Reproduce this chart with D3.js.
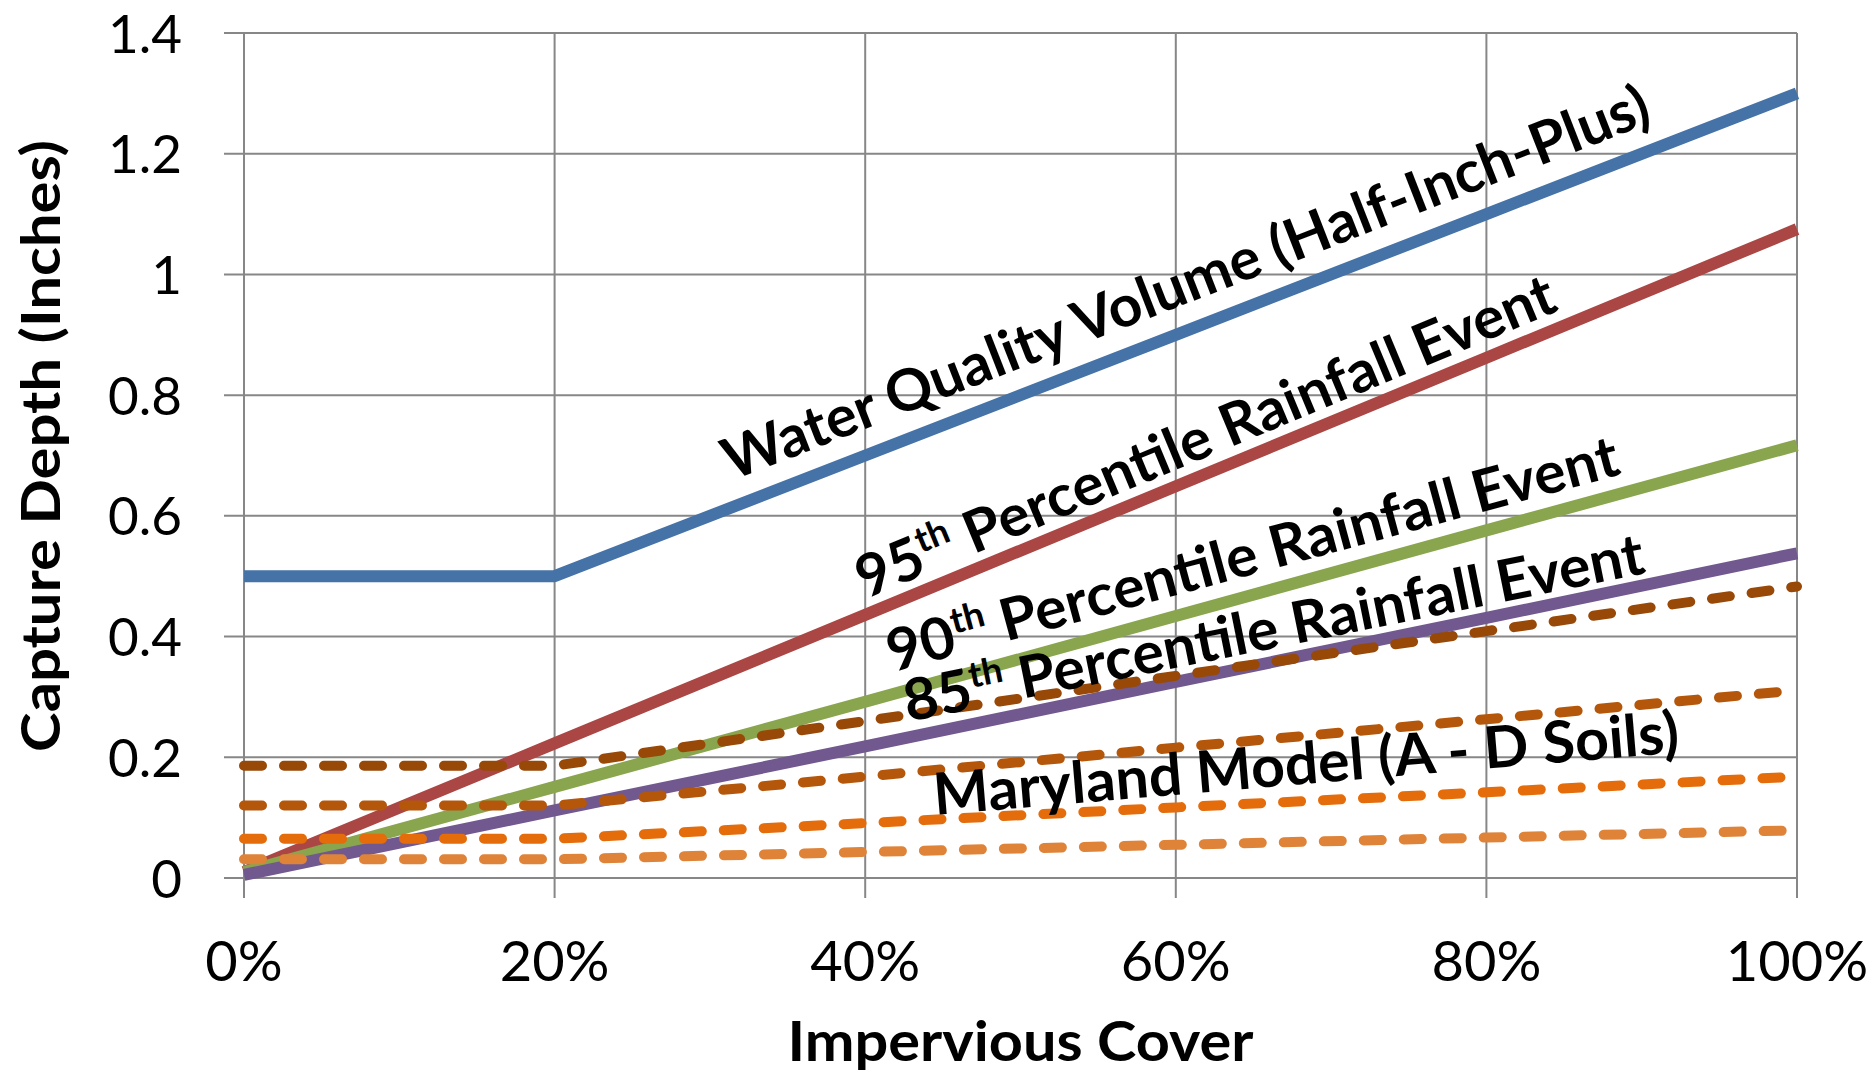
<!DOCTYPE html>
<html><head><meta charset="utf-8">
<script src="https://cdn.jsdelivr.net/npm/d3@7"></script>
<style>
body{margin:0;background:#fff}
text{font-family:Lato,'Open Sans',sans-serif;fill:#000}
</style>
</head><body>
<svg id="c" width="1873" height="1075"></svg>
<script>
// ---------- data ----------
const impervious   = [0, 0.2, 0.4, 0.6, 0.8, 1.0];
const xTickValues  = [0, 0.2, 0.4, 0.6, 0.8, 1.0];
const xTickLabels  = ["0%", "20%", "40%", "60%", "80%", "100%"];
const yTickValues  = [0, 0.2, 0.4, 0.6, 0.8, 1.0, 1.2, 1.4];
const yTickLabels  = ["0", "0.2", "0.4", "0.6", "0.8", "1", "1.2", "1.4"];

const wqv          = [0.5, 0.5, 0.7, 0.9, 1.1, 1.3];
const pct95        = [0.01, 0.223, 0.436, 0.649, 0.862, 1.075];
const pct90        = [0.01, 0.151, 0.292, 0.434, 0.576, 0.717];
const pct85        = [0.005, 0.112, 0.218, 0.325, 0.431, 0.538];
const mdSoilD      = [0.186, 0.186, 0.260, 0.335, 0.409, 0.483];
const mdSoilC      = [0.120, 0.120, 0.168, 0.216, 0.263, 0.311];
const mdSoilB      = [0.065, 0.065, 0.091, 0.117, 0.142, 0.168];
const mdSoilA      = [0.031, 0.031, 0.043, 0.055, 0.067, 0.079];

const seriesNames  = ["Water Quality Volume (Half-Inch-Plus)", "95th Percentile Rainfall Event",
                      "90th Percentile Rainfall Event", "85th Percentile Rainfall Event",
                      "Maryland Model D", "Maryland Model C", "Maryland Model B", "Maryland Model A"];
const seriesValues = [wqv, pct95, pct90, pct85, mdSoilD, mdSoilC, mdSoilB, mdSoilA];
const seriesColors = ["#4572A7", "#AA4643", "#89A54E", "#71588F", "#984807", "#B5570A", "#E46C0A", "#DE8338"];
const seriesDashed = [false, false, false, false, true, true, true, true];

// annotation labels: [main, superscript, rest], anchor in data units, angle, target length
const labelParts = [
  ["Water Quality Volume (Half-Inch-Plus)", "", ""],
  ["95", "th", " Percentile Rainfall Event"],
  ["90", "th", " Percentile Rainfall Event"],
  ["85", "th", " Percentile Rainfall Event"],
  ["Maryland Model (A - D Soils)", "", ""]
];
const labelX      = [0.3142, 0.4005, 0.4179, 0.4276, 0.445];
const labelY      = [0.658, 0.4623, 0.341, 0.2585, 0.1044];
const labelAngle  = [-21.3, -22.6, -15.2, -11.4, -4.8];
const labelLength = [990, 752, 756, 754, 748];

// ---------- layout ----------
const svg = d3.select("#c");
const L = 244, R = 1797, T = 33, B = 878;
const x = d3.scaleLinear().domain([0, 1]).range([L, R]);
const y = d3.scaleLinear().domain([0, 1.4]).range([B, T]);
const grid = "#878787";

// gridlines
svg.append("g").selectAll("line").data(yTickValues).join("line")
  .attr("x1", L - 20).attr("x2", R).attr("y1", d => y(d)).attr("y2", d => y(d))
  .attr("stroke", grid).attr("stroke-width", 2);
svg.append("g").selectAll("line").data(xTickValues).join("line")
  .attr("y1", T).attr("y2", B + 20).attr("x1", d => x(d)).attr("x2", d => x(d))
  .attr("stroke", grid).attr("stroke-width", 2);

// tick labels
svg.append("g").selectAll("text").data(yTickValues).join("text")
  .attr("x", 182).attr("y", d => y(d) + 19.5).attr("text-anchor", "end")
  .attr("font-size", 53).text((d, i) => yTickLabels[i]);
svg.append("g").selectAll("text").data(xTickValues).join("text")
  .attr("x", d => x(d)).attr("y", 981).attr("text-anchor", "middle")
  .attr("font-size", 56).text((d, i) => xTickLabels[i]);

// lines
const line = d3.line().x((d, i) => x(impervious[i])).y(d => y(d));
seriesValues.forEach((vals, k) => {
  if (seriesDashed[k]) return;
  svg.append("path").datum(vals).attr("d", line).attr("fill", "none")
    .attr("stroke", seriesColors[k]).attr("stroke-width", 12)
    .attr("stroke-linejoin", "round");
});
seriesValues.forEach((vals, k) => {
  if (!seriesDashed[k]) return;
  svg.append("path").datum(vals).attr("d", line).attr("fill", "none")
    .attr("stroke", seriesColors[k]).attr("stroke-width", 10)
    .attr("stroke-linecap", "round").attr("stroke-dasharray", "18,22")
    .attr("stroke-linejoin", "round");
});

// helper: fit text to a target length by horizontal scaling
function fit(textSel, px, py, angle, target) {
  const w = textSel.node().getComputedTextLength();
  textSel.attr("transform", `translate(${px},${py}) rotate(${angle}) scale(${target / w},1)`);
}

// annotation labels
labelParts.forEach((p, i) => {
  const t = svg.append("text").attr("font-size", 58).attr("font-weight", 700).attr("x", 0).attr("y", 0);
  t.append("tspan").text(p[0]);
  if (p[1]) {
    t.append("tspan").attr("font-size", 36).attr("dy", -21).text(p[1]);
    t.append("tspan").attr("dy", 21).text(p[2]);
  }
  fit(t, x(labelX[i]), y(labelY[i]), labelAngle[i], labelLength[i]);
});

// axis titles
const yt = svg.append("text").attr("font-size", 54).attr("font-weight", 700)
  .attr("text-anchor", "middle").text("Capture Depth (Inches)");
fit(yt, 60, 446, -90, 612);
const xt = svg.append("text").attr("font-size", 55).attr("font-weight", 700)
  .attr("text-anchor", "middle").text("Impervious Cover");
fit(xt, (L + R) / 2, 1061, 0, 466);
</script>
</body></html>
